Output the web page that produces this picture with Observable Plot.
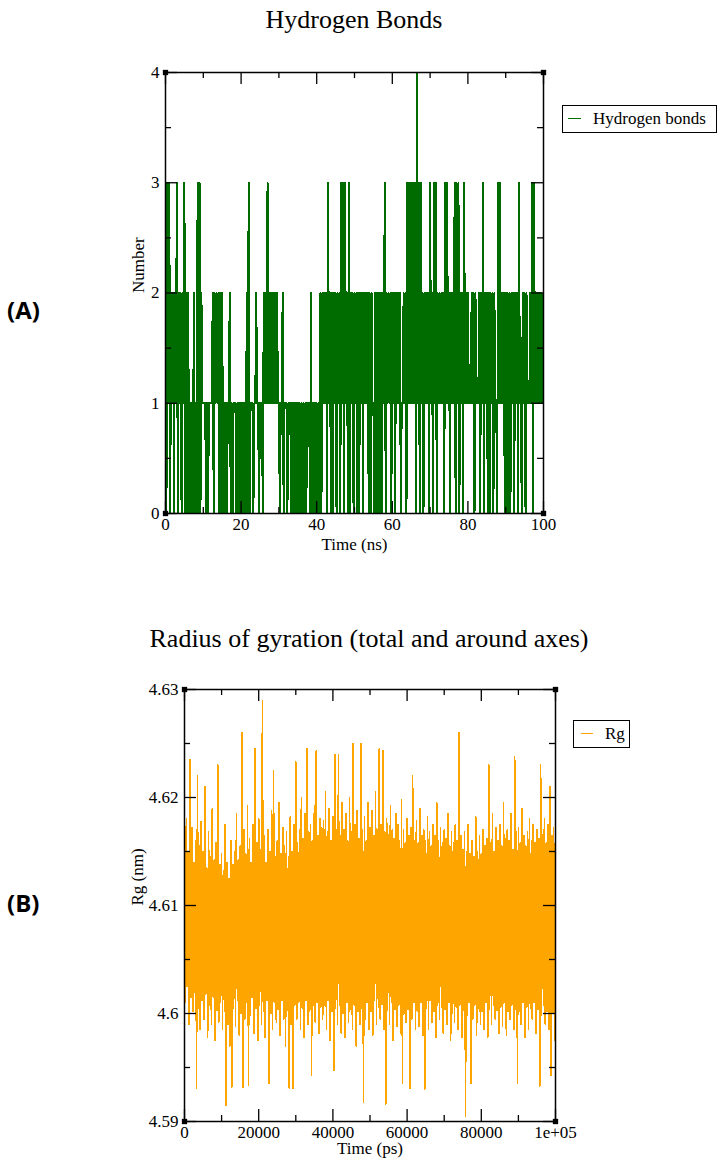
<!DOCTYPE html>
<html><head><meta charset="utf-8">
<script src="https://cdn.jsdelivr.net/npm/d3@7"></script>
<script src="https://cdn.jsdelivr.net/npm/@observablehq/plot@0.6"></script>
<style>
body{margin:0;background:#fff;}
#page{position:relative;width:724px;height:1171px;overflow:hidden;font-family:"Liberation Serif","Times New Roman",serif;color:#000;}
.abs{position:absolute;}
.title{font-size:26px;text-align:center;line-height:30px;white-space:nowrap;}
.panel{font-family:"Open Sans","Liberation Sans",sans-serif;font-weight:700;font-size:24px;line-height:30px;}
.legend{border:1.5px solid #000;box-sizing:border-box;background:#fff;}
.legend .sw{position:absolute;height:0;}
.legend .lt{position:absolute;font-size:17px;line-height:22px;white-space:nowrap;}
</style></head><body><div id="page"></div>
<script>
// ---------- Panel A: Hydrogen bonds (number vs time, ns) ----------
const hbTitle = "Hydrogen Bonds";
const hbLegend = "Hydrogen bonds";
const hbXLabel = "Time (ns)";
const hbYLabel = "Number";
const hbStepNs = 0.25;
const hbCounts = [
2,0,3,1, 3,0,2,1, 2,0,2,1, 3,0,2,1, 2,0,2,1, 3,0,2,0, 2,0,1,0, 1,0,2,0, 1,0,3,0, 3,0,2,1,
1,1,1,0, 1,0,1,1, 1,1,2,0, 2,1,2,1, 2,0,2,0, 2,0,1,0, 1,0,1,1, 2,0,1,0, 1,1,1,0, 1,0,1,0,
1,0,1,0, 1,0,2,0, 3,0,1,1, 1,0,1,1, 2,1,1,0, 1,1,1,0, 2,1,2,1, 3,1,2,1, 2,1,2,1, 2,1,2,1,
1,0,1,1, 2,0,1,1, 1,0,1,1, 1,0,1,0, 1,0,1,0, 1,0,1,0, 1,0,1,0, 1,0,1,1, 1,0,2,0, 1,0,1,0,
1,0,1,0, 2,0,2,1, 2,1,2,0, 3,1,2,0, 2,0,2,1, 2,0,2,1, 2,0,3,1, 3,0,3,1, 2,0,3,0, 2,1,2,0,
2,1,2,0, 2,0,2,1, 2,0,2,1, 2,1,2,0, 2,0,2,1, 1,0,2,0, 2,0,2,0, 2,0,2,1, 3,0,2,1, 2,1,2,0,
2,1,2,0, 2,1,2,1, 2,0,1,1, 2,1,2,0, 3,1,3,1, 3,1,3,1, 3,0,4,1, 3,0,3,1, 2,0,2,1, 2,1,2,0,
3,1,2,0, 3,1,3,0, 2,1,2,1, 2,1,2,0, 3,1,3,1, 2,0,2,1, 2,1,3,0, 3,1,3,0, 2,1,2,0, 3,1,2,1,
2,1,1,1, 2,1,2,0, 2,1,1,1, 2,0,2,1, 3,0,2,1, 2,0,2,0, 2,1,2,0, 2,1,1,0, 3,1,3,1, 2,1,2,0,
2,0,2,0, 2,0,2,1, 2,0,2,1, 2,0,3,1, 1,0,2,1, 2,0,2,1, 1,1,2,1, 3,0,3,1, 2,1,2,1, 2,1,2,1,
2];
const hbXDomain = [0, 100];
const hbYDomain = [0, 4];
const hbXMajor = [0, 20, 40, 60, 80, 100];
const hbXMinor = [10, 30, 50, 70, 90];
const hbYMajor = [0, 1, 2, 3, 4];
const hbYMinor = [0.5, 1.5, 2.5, 3.5];

// ---------- Panel B: Radius of gyration (nm vs time, ps) ----------
const rgTitle = "Radius of gyration (total and around axes)";
const rgLegend = "Rg";
const rgXLabel = "Time (ps)";
const rgYLabel = "Rg (nm)";
const rgStepPs = 250;
const rgValues = [
4.6165,4.6010,4.6180,4.6025,4.6150,4.5990,4.6235,4.6015,4.6172,4.6002,
4.6140,4.6020,4.6160,4.5931,4.6220,4.6005,4.6155,4.5985,4.6178,4.6012,
4.6150,4.5995,4.6210,4.6018,4.6135,4.5978,4.6168,4.6008,4.6145,4.5990,
4.6190,4.6015,4.6142,4.5975,4.6158,4.6003,4.6230,4.5992,4.6138,4.6010,
4.6148,4.5985,4.6132,4.6002,4.6175,4.5915,4.6140,4.5990,4.6125,4.5970,
4.6160,4.5932,4.6138,4.6005,4.6150,4.5988,4.6185,4.6012,4.6142,4.5980,
4.6155,4.6000,4.6260,4.5932,4.6170,4.5995,4.6148,4.6010,4.6192,4.5934,
4.6162,4.5998,4.6140,4.6015,4.6175,4.5982,4.6245,4.6005,4.6158,4.5975,
4.6180,4.6008,4.6152,4.5990,4.6290,4.6002,4.6165,4.5978,4.6140,4.6012,
4.6170,4.5935,4.6150,4.6000,4.6188,4.5985,4.6225,4.6010,4.6145,4.5992,
4.6160,4.6004,4.6195,4.5980,4.6148,4.6012,4.6172,4.5995,4.6155,4.5970,
4.6168,4.6003,4.6145,4.5931,4.6182,4.5990,4.6150,4.5931,4.6175,4.6008,
4.6233,4.5995,4.6158,4.6010,4.6170,4.5985,4.6200,4.6005,4.6162,4.5978,
4.6185,4.6012,4.6245,4.5990,4.6168,4.6002,4.6175,4.5943,4.6160,4.6008,
4.6192,4.5992,4.6243,4.6010,4.6165,4.5982,4.6180,4.6006,4.6172,4.5995,
4.6178,4.6008,4.6205,4.5985,4.6168,4.6012,4.6190,4.5975,4.6160,4.6002,
4.6182,4.5947,4.6240,4.6005,4.6170,4.5990,4.6240,4.6008,4.6165,4.5982,
4.6195,4.6000,4.6170,4.5978,4.6185,4.6010,4.6160,4.5992,4.6200,4.6004,
4.6168,4.5985,4.6250,4.6008,4.6175,4.5970,4.6188,4.6002,4.6162,4.5990,
4.6250,4.6005,4.6170,4.5918,4.6182,4.5995,4.6160,4.6010,4.6195,4.5985,
4.6172,4.6002,4.6188,4.5980,4.6165,4.6012,4.6205,4.5990,4.6170,4.6006,
4.6245,4.5995,4.6175,4.6008,4.6243,4.5985,4.6168,4.5916,4.6180,4.6003,
4.6165,4.5990,4.6192,4.6010,4.6170,4.5975,4.6162,4.6004,4.6185,4.5988,
4.6175,4.6008,4.6160,4.5982,4.6198,4.5935,4.6170,4.6000,4.6158,4.5992,
4.6180,4.6004,4.6165,4.5931,4.6172,4.5995,4.6220,4.6010,4.6160,4.5985,
4.6178,4.6002,4.6158,4.5988,4.6190,4.6010,4.6165,4.5980,4.6170,4.5930,
4.6160,4.6005,4.6182,4.5985,4.6168,4.6012,4.6155,4.5992,4.6175,4.6002,
4.6165,4.5978,4.6195,4.6008,4.6160,4.5995,4.6172,4.6006,4.6158,4.5982,
4.6170,4.6004,4.6162,4.5990,4.6185,4.6010,4.6155,4.5975,4.6168,4.6000,
4.6158,4.5992,4.6175,4.6006,4.6160,4.5985,4.6260,4.6008,4.6165,4.5978,
4.6152,4.6003,4.6168,4.5905,4.6150,4.5998,4.6175,4.6010,4.6148,4.5935,
4.6160,4.5995,4.6145,4.6008,4.6182,4.5980,4.6150,4.6005,4.6165,4.5990,
4.6148,4.6002,4.6170,4.5985,4.6155,4.6010,4.6162,4.5978,4.6230,4.6004,
4.6158,4.5990,4.6185,4.6008,4.6150,4.5995,4.6172,4.6003,4.6160,4.5982,
4.6175,4.6006,4.6155,4.5988,4.6195,4.6010,4.6162,4.5980,4.6170,4.6002,
4.6160,4.5995,4.6185,4.6008,4.6152,4.5985,4.6238,4.6004,4.6168,4.5935,
4.6172,4.6002,4.6158,4.5990,4.6190,4.6010,4.6165,4.5978,4.6155,4.6006,
4.6168,4.5985,4.6180,4.6005,4.6160,4.5995,4.6175,4.6010,4.6158,4.5982,
4.6170,4.6004,4.6162,4.5933,4.6230,4.5998,4.6165,4.6008,4.6180,4.5990,
4.6158,4.6002,4.6175,4.5985,4.6210,4.5943,4.6165,4.6000,4.6172,4.5975,
4.6130];
const rgXDomain = [0, 100000];
const rgYDomain = [4.59, 4.63];
const rgXMajor = [0, 20000, 40000, 60000, 80000, 100000];
const rgXMinor = [10000, 30000, 50000, 70000, 90000];
const rgYMajor = [4.59, 4.60, 4.61, 4.62, 4.63];
const rgYMinor = [4.595, 4.605, 4.615, 4.625];

const GREEN = "#006c00";
const ORANGE = "#ffa500";
const page = document.getElementById("page");

function panel({values, step, xDomain, yDomain, xMajor, xMinor, yMajor, yMinor, color, lineWidth,
                xFmt, yFmt, xLabel, yLabel, top, height, frame, xLabelDy, yLabelDx}) {
  const [fl, fr, ft, fb] = frame; // frame left/right/top/bottom in page px
  const W = 724;
  const mT = ft - top, mB = top + height - fb, mL = fl, mR = W - fr;
  const pw = fr - fl, ph = fb - ft;
  const data = values.map((v, i) => ({t: i * step, v}));
  const corners = [[xDomain[0], yDomain[0]], [xDomain[0], yDomain[1]], [xDomain[1], yDomain[0]], [xDomain[1], yDomain[1]]];
  const tk = {stroke: "#000", strokeWidth: 1.3};
  const svg = Plot.plot({
    width: W, height, marginLeft: mL, marginRight: mR, marginTop: mT, marginBottom: mB,
    x: {domain: xDomain}, y: {domain: yDomain},
    style: {fontFamily: '"Liberation Serif", "Times New Roman", serif', fontSize: "17px", color: "#000", background: "transparent", overflow: "visible"},
    marks: [
      Plot.line(data, {x: "t", y: "v", stroke: color, strokeWidth: lineWidth, shapeRendering: "crispEdges"}),
      Plot.ruleX(xMajor, {x: d => d, insetTop: ph - 12, ...tk}),
      Plot.ruleX(xMajor, {x: d => d, insetBottom: ph - 12, ...tk}),
      Plot.ruleX(xMinor, {x: d => d, insetTop: ph - 6, ...tk}),
      Plot.ruleX(xMinor, {x: d => d, insetBottom: ph - 6, ...tk}),
      Plot.ruleY(yMajor, {y: d => d, insetRight: pw - 12, ...tk}),
      Plot.ruleY(yMajor, {y: d => d, insetLeft: pw - 12, ...tk}),
      Plot.ruleY(yMinor, {y: d => d, insetRight: pw - 6, ...tk}),
      Plot.ruleY(yMinor, {y: d => d, insetLeft: pw - 6, ...tk}),
      Plot.frame({stroke: "#000", strokeWidth: 1.5}),
      Plot.dot(corners, {x: d => d[0], y: d => d[1], symbol: "square", r: 3, fill: "#000"}),
      Plot.axisX({anchor: "bottom", ticks: xMajor, tickSize: 0, tickPadding: 4, tickFormat: xFmt, label: null, fontSize: 17}),
      Plot.axisY({anchor: "left", ticks: yMajor, tickSize: 0, tickPadding: 6, tickFormat: yFmt, label: null, fontSize: 17}),
      Plot.text([xLabel], {text: d => d, frameAnchor: "bottom", dy: xLabelDy, fontSize: 17}),
      Plot.text([yLabel], {text: d => d, frameAnchor: "left", dx: yLabelDx, rotate: -90, fontSize: 17})
    ]
  });
  svg.style.position = "absolute";
  svg.style.left = "0px";
  svg.style.top = top + "px";
  page.appendChild(svg);
}

panel({values: hbCounts, step: hbStepNs, xDomain: hbXDomain, yDomain: hbYDomain,
  xMajor: hbXMajor, xMinor: hbXMinor, yMajor: hbYMajor, yMinor: hbYMinor, color: GREEN, lineWidth: 2.0,
  xFmt: d => String(d), yFmt: d => String(d), xLabel: hbXLabel, yLabel: hbYLabel,
  top: 0, height: 580, frame: [165, 543, 72, 513], xLabelDy: 36, yLabelDx: -27});

panel({values: rgValues, step: rgStepPs, xDomain: rgXDomain, yDomain: rgYDomain,
  xMajor: rgXMajor, xMinor: rgXMinor, yMajor: rgYMajor, yMinor: rgYMinor, color: ORANGE, lineWidth: 1.6,
  xFmt: d => d === 100000 ? "1e+05" : String(d), yFmt: d => d3.format(".2~f")(d), xLabel: rgXLabel, yLabel: rgYLabel,
  top: 600, height: 571, frame: [184, 555, 689, 1121], xLabelDy: 32, yLabelDx: -47});

function addDiv(cls, style, text) {
  const d = document.createElement("div");
  d.className = cls;
  d.setAttribute("style", style);
  if (text != null) d.textContent = text;
  page.appendChild(d);
  return d;
}
addDiv("abs title", "left:165px;width:378px;top:5px;", hbTitle);
addDiv("abs title", "left:134px;width:470px;top:624px;", rgTitle);
addDiv("abs panel", "left:7px;top:295px;", "(A)");
addDiv("abs panel", "left:7px;top:888px;", "(B)");

function legend(left, top, width, label, color, swLeft, swWidth, textLeft) {
  const box = addDiv("abs legend", `left:${left}px;top:${top}px;width:${width}px;height:28px;`);
  const sw = document.createElement("div");
  sw.className = "sw";
  sw.setAttribute("style", `left:${swLeft}px;top:12px;width:${swWidth}px;border-top:1.6px solid ${color};`);
  box.appendChild(sw);
  const t = document.createElement("div");
  t.className = "lt";
  t.setAttribute("style", `left:${textLeft}px;top:2px;`);
  t.textContent = label;
  box.appendChild(t);
}
legend(562, 105, 155, hbLegend, GREEN, 5, 13, 30);
legend(573, 720, 57, rgLegend, ORANGE, 7, 12, 31);
</script></body></html>
